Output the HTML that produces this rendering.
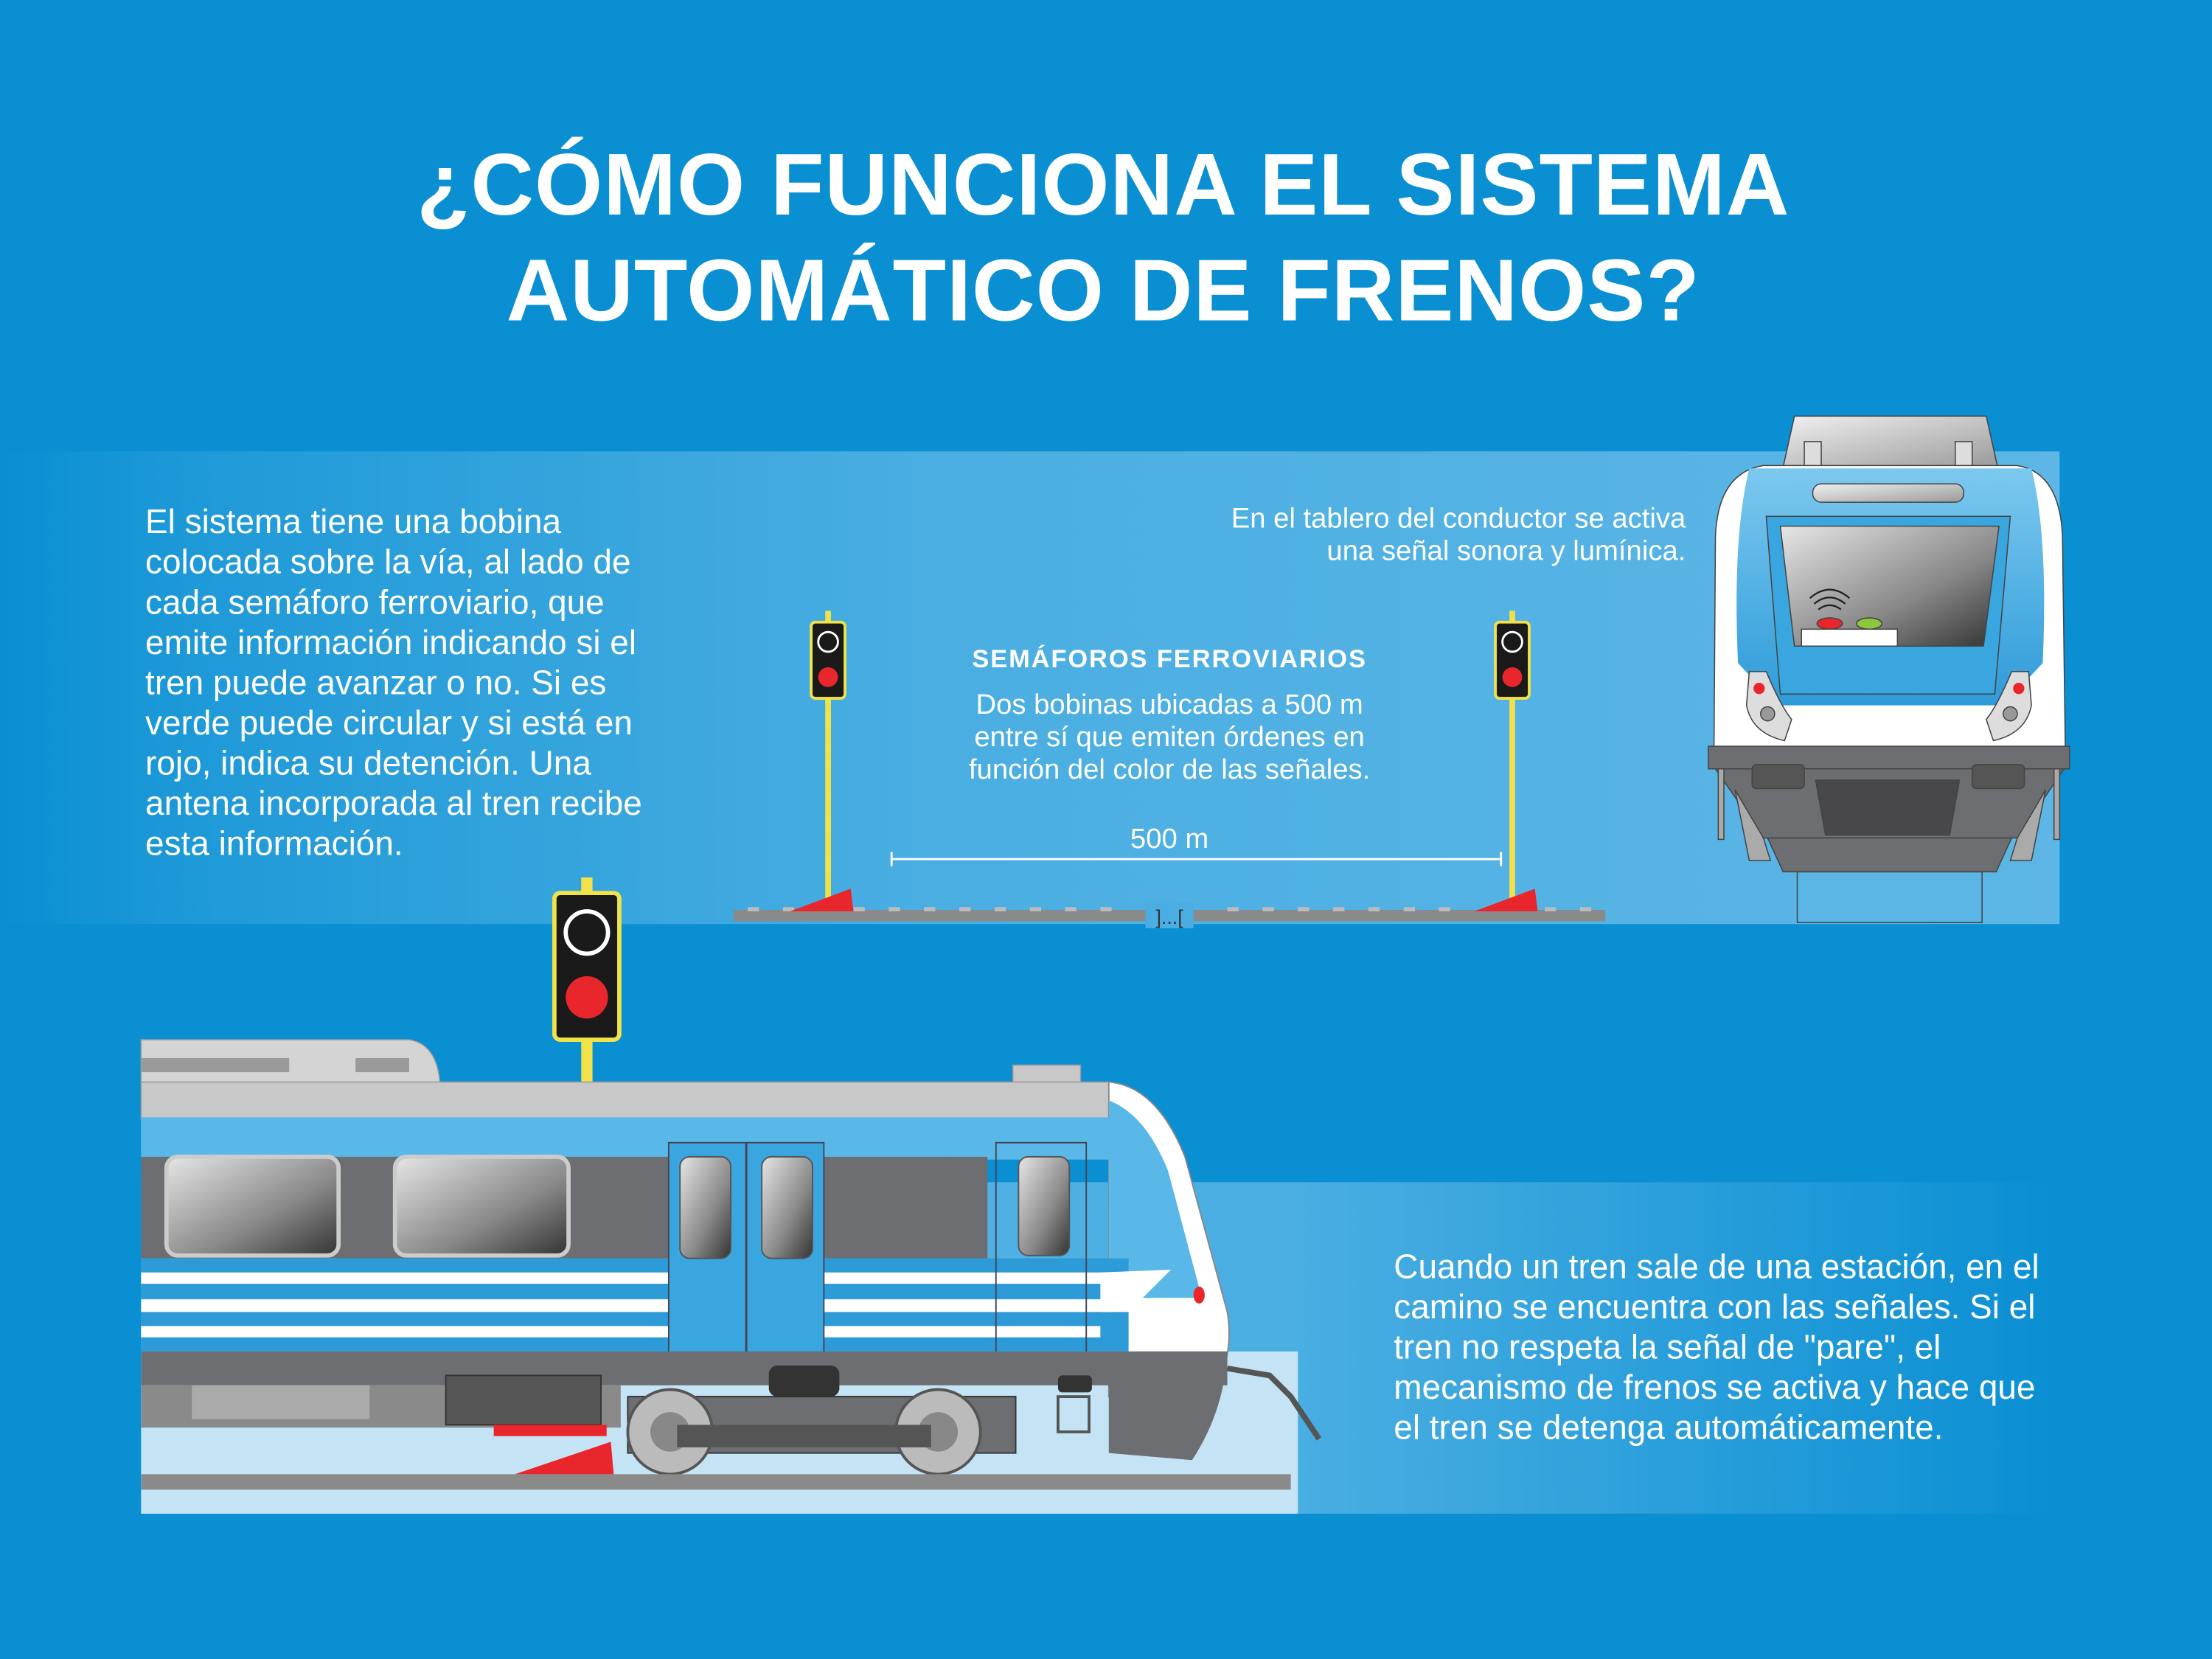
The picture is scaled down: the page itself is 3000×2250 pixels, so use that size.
<!DOCTYPE html>
<html><head><meta charset="utf-8"><style>
html,body{margin:0;padding:0;background:#0a8fd3;}
svg{display:block;}
text{font-family:"Liberation Sans",sans-serif;}
</style></head><body>
<svg width="3000" height="2250" viewBox="0 0 1568 1176" xmlns="http://www.w3.org/2000/svg">
<defs>
<linearGradient id="b1" x1="0" x2="1" y1="0" y2="0">
<stop offset="0" stop-color="#0a8fd3"/><stop offset="0.1" stop-color="#1f9ad8"/><stop offset="0.45" stop-color="#4aaee2"/><stop offset="1" stop-color="#5db6e5"/></linearGradient>
<linearGradient id="b2" x1="0" x2="1" y1="0" y2="0">
<stop offset="0" stop-color="#5ab6e6"/><stop offset="0.6" stop-color="#4aaee2"/><stop offset="1" stop-color="#0a8fd3"/></linearGradient>
<linearGradient id="win" x1="0" x2="1" y1="0" y2="1">
<stop offset="0" stop-color="#e6e6e6"/><stop offset="0.6" stop-color="#888"/><stop offset="1" stop-color="#333"/></linearGradient>
<linearGradient id="wing" x1="0" x2="1" y1="0" y2="1">
<stop offset="0" stop-color="#f0f0f0"/><stop offset="1" stop-color="#9a9a9a"/></linearGradient>
<linearGradient id="lb" x1="0" x2="0" y1="0" y2="1">
<stop offset="0" stop-color="#7cc8ef"/><stop offset="1" stop-color="#2e9bd9"/></linearGradient>
</defs>
<rect width="1568" height="1176" fill="#0a8fd3"/>
<rect x="0" y="320" width="1460" height="335" fill="url(#b1)"/>
<rect x="100" y="838" width="1360" height="235" fill="url(#b2)"/>

<text x="782" y="152" text-anchor="middle" fill="#fff" font-size="62" font-weight="bold" letter-spacing="0.5">¿CÓMO FUNCIONA EL SISTEMA</text>
<text x="782" y="227" text-anchor="middle" fill="#fff" font-size="62" font-weight="bold" letter-spacing="0.5">AUTOMÁTICO DE FRENOS?</text>

<g fill="#fff" font-size="24">
<text x="103" y="378">El sistema tiene una bobina</text>
<text x="103" y="406.5">colocada sobre la vía, al lado de</text>
<text x="103" y="435">cada semáforo ferroviario, que</text>
<text x="103" y="463.5">emite información indicando si el</text>
<text x="103" y="492">tren puede avanzar o no. Si es</text>
<text x="103" y="520.5">verde puede circular y si está en</text>
<text x="103" y="549">rojo, indica su detención. Una</text>
<text x="103" y="577.5">antena incorporada al tren recibe</text>
<text x="103" y="606">esta información.</text>
</g>
<g fill="#fff" font-size="24">
<text x="988" y="906">Cuando un tren sale de una estación, en el</text>
<text x="988" y="934.5">camino se encuentra con las señales. Si el</text>
<text x="988" y="963">tren no respeta la señal de "pare", el</text>
<text x="988" y="991.5">mecanismo de frenos se activa y hace que</text>
<text x="988" y="1020">el tren se detenga automáticamente.</text>
</g>
<g fill="#fff" font-size="20" text-anchor="end">
<text x="1195" y="374">En el tablero del conductor se activa</text>
<text x="1195" y="397">una señal sonora y lumínica.</text>
</g>
<text x="829" y="473" text-anchor="middle" fill="#fff" font-size="18" font-weight="bold" letter-spacing="1">SEMÁFOROS FERROVIARIOS</text>
<g fill="#fff" font-size="20" text-anchor="middle">
<text x="829" y="506">Dos bobinas ubicadas a 500 m</text>
<text x="829" y="529">entre sí que emiten órdenes en</text>
<text x="829" y="552">función del color de las señales.</text>
</g>
<text x="829" y="601" text-anchor="middle" fill="#fff" font-size="20">500 m</text>
<line x1="632" y1="609" x2="1064" y2="609" stroke="#fff" stroke-width="1.5"/>
<line x1="632" y1="604" x2="632" y2="614" stroke="#fff" stroke-width="1.5"/>
<line x1="1064" y1="604" x2="1064" y2="614" stroke="#fff" stroke-width="1.5"/>

<rect x="520" y="645" width="618" height="8" fill="#8a8a8a"/>
<g fill="#bbb">
<rect x="530" y="643" width="8" height="3"/><rect x="555" y="643" width="8" height="3"/><rect x="580" y="643" width="8" height="3"/><rect x="605" y="643" width="8" height="3"/><rect x="630" y="643" width="8" height="3"/><rect x="655" y="643" width="8" height="3"/><rect x="680" y="643" width="8" height="3"/><rect x="705" y="643" width="8" height="3"/><rect x="730" y="643" width="8" height="3"/><rect x="755" y="643" width="8" height="3"/><rect x="780" y="643" width="8" height="3"/><rect x="870" y="643" width="8" height="3"/><rect x="895" y="643" width="8" height="3"/><rect x="920" y="643" width="8" height="3"/><rect x="945" y="643" width="8" height="3"/><rect x="970" y="643" width="8" height="3"/><rect x="995" y="643" width="8" height="3"/><rect x="1020" y="643" width="8" height="3"/><rect x="1095" y="643" width="8" height="3"/><rect x="1120" y="643" width="8" height="3"/>
</g>
<rect x="812" y="640" width="34" height="18" fill="#4aaee2"/>
<text x="829" y="655" text-anchor="middle" fill="#333" font-size="14">]...[</text>

<g>
<rect x="585" y="433" width="4" height="205" fill="#f2e24a"/>
<rect x="575" y="441" width="24" height="54" rx="3" fill="#1a1a1a" stroke="#f2e24a" stroke-width="2"/>
<circle cx="587" cy="455" r="7" fill="none" stroke="#fff" stroke-width="1.5"/>
<circle cx="587" cy="480" r="7" fill="#e8262b"/>
<polygon points="560,646 605,646 603,630" fill="#e8262b"/>
<rect x="1070" y="433" width="4" height="205" fill="#f2e24a"/>
<rect x="1060" y="441" width="24" height="54" rx="3" fill="#1a1a1a" stroke="#f2e24a" stroke-width="2"/>
<circle cx="1072" cy="455" r="7" fill="none" stroke="#fff" stroke-width="1.5"/>
<circle cx="1072" cy="480" r="7" fill="#e8262b"/>
<polygon points="1045,646 1090,646 1088,630" fill="#e8262b"/>
</g>

<g stroke="#444" stroke-width="0.8">
<rect x="1274" y="618" width="131" height="36" fill="#5ab5e5"/>
<polygon points="1272,295 1408,295 1416,331 1264,331" fill="url(#wing)"/>
<rect x="1279" y="313" width="12" height="18" fill="#ddd"/><rect x="1386" y="313" width="12" height="18" fill="#ddd"/>
<path d="M1215,530 L1216,380 Q1218,335 1250,330 L1430,330 Q1460,335 1462,380 L1464,530 Z" fill="#fff"/>
<path d="M1240,332 L1440,332 Q1452,380 1448,470 L1420,500 L1260,500 L1232,470 Q1228,380 1240,332 Z" fill="url(#lb)" stroke="none"/>
<rect x="1285" y="343" width="107" height="13" rx="6" fill="url(#wing)"/>
<path d="M1252,366 L1425,366 L1414,492 L1262,492 Z" fill="#3aa6e0"/>
<path d="M1262,373 L1417,373 L1406,458 L1272,458 Z" fill="url(#win)"/>
<path d="M1289,432 q8,-6 16,0 M1286,428 q11,-9 22,0 M1283,424 q14,-12 28,0" fill="none" stroke="#222" stroke-width="1.2"/>
<ellipse cx="1297" cy="442" rx="9" ry="4" fill="#e8262b"/>
<ellipse cx="1325" cy="442" rx="9" ry="4" fill="#8cc63f"/>
<rect x="1277" y="446" width="68" height="12" fill="#fff"/>
<path d="M1240,476 L1252,476 Q1262,500 1270,510 L1265,525 Q1242,520 1238,500 Z" fill="#ddd"/>
<path d="M1438,476 L1426,476 Q1416,500 1408,510 L1413,525 Q1436,520 1440,500 Z" fill="#ddd"/>
<circle cx="1247" cy="488" r="4" fill="#e8262b" stroke="none"/><circle cx="1431" cy="488" r="4" fill="#e8262b" stroke="none"/>
<circle cx="1253" cy="506" r="5" fill="#999"/><circle cx="1425" cy="506" r="5" fill="#999"/>
<rect x="1211" y="529" width="256" height="16" fill="#6d6e71"/>
<polygon points="1216,545 1463,545 1430,594 1250,594" fill="#6d6e71"/>
<rect x="1218" y="545" width="4" height="50" fill="#aaa"/><rect x="1456" y="545" width="4" height="50" fill="#aaa"/>
<polygon points="1230,560 1250,594 1255,610 1240,610" fill="#aaa"/>
<polygon points="1450,560 1430,594 1425,610 1440,610" fill="#aaa"/>
<rect x="1242" y="542" width="37" height="17" rx="3" fill="#555"/>
<rect x="1398" y="542" width="37" height="17" rx="3" fill="#555"/>
<polygon points="1287,553 1389,553 1382,592 1294,592" fill="#48484a"/>
<polygon points="1253,594 1426,594 1415,618 1264,618" fill="#6d6e71"/>
</g>

<rect x="100" y="958" width="820" height="115" fill="#c4e3f4"/>
<path d="M100,737 L290,737 Q310,740 312,769 L100,769 Z" fill="#d4d4d4" stroke="#999" stroke-width="0.8"/>
<rect x="100" y="750" width="105" height="10" fill="#9a9a9a"/>
<rect x="252" y="750" width="38" height="10" fill="#9a9a9a"/>
<rect x="412" y="622" width="8" height="150" fill="#f2e24a"/>
<rect x="393" y="633" width="46" height="104" rx="4" fill="#1a1a1a" stroke="#f2e24a" stroke-width="3"/>
<circle cx="416" cy="661" r="15" fill="none" stroke="#fff" stroke-width="3"/>
<circle cx="416" cy="707" r="15" fill="#e8262b"/>

<rect x="718" y="755" width="48" height="14" fill="#c8c8c8" stroke="#999" stroke-width="0.8"/>
<rect x="100" y="767" width="686" height="26" fill="#c8c8c8" stroke="#999" stroke-width="0.8"/>
<path d="M786,767 Q820,770 840,820 L870,930 Q875,960 860,990 L786,990 Z" fill="#fff" stroke="#888" stroke-width="1"/>
<path d="M786,780 Q812,790 828,830 L852,920 L786,920 Z" fill="#5ab8e8"/>
<rect x="100" y="792" width="690" height="30" fill="#5ab8e8"/>
<rect x="100" y="820" width="600" height="72" fill="#6d6e71"/>
<ellipse cx="670" cy="856" rx="30" ry="36" fill="#6d6e71"/>
<rect x="118" y="820" width="122" height="70" rx="8" fill="url(#win)" stroke="#ccc" stroke-width="3"/>
<rect x="280" y="820" width="123" height="70" rx="8" fill="url(#win)" stroke="#ccc" stroke-width="3"/>
<rect x="100" y="892" width="700" height="66" fill="#2e9bd9"/>
<rect x="100" y="902" width="720" height="8" fill="#fff"/>
<rect x="100" y="921" width="690" height="9" fill="#fff"/>
<rect x="100" y="940" width="680" height="8" fill="#fff"/>
<polygon points="780,902 830,900 800,930 780,930" fill="#fff"/>
<rect x="474" y="810" width="110" height="150" fill="#3aa6e0" stroke="#445" stroke-width="1"/>
<line x1="529" y1="810" x2="529" y2="960" stroke="#445" stroke-width="1.5"/>
<rect x="482" y="820" width="36" height="72" rx="7" fill="url(#win)" stroke="#555"/>
<rect x="540" y="820" width="36" height="72" rx="7" fill="url(#win)" stroke="#555"/>
<rect x="706" y="810" width="64" height="150" fill="none" stroke="#445" stroke-width="1"/>
<rect x="722" y="820" width="36" height="70" rx="7" fill="url(#win)" stroke="#555"/>
<ellipse cx="850" cy="918" rx="4" ry="6" fill="#e8262b"/>
<rect x="100" y="958" width="770" height="24" fill="#6d6e71"/>
<path d="M786,958 L870,958 Q868,1000 845,1035 L786,1030 Z" fill="#6d6e71"/>
<rect x="100" y="982" width="340" height="30" fill="#8a8a8a"/>
<rect x="136" y="982" width="126" height="24" fill="#aaa"/>
<rect x="316" y="975" width="110" height="35" fill="#555" stroke="#333"/>
<rect x="350" y="1010" width="80" height="8" fill="#e8262b"/>
<polygon points="365,1045 435,1045 433,1022" fill="#e8262b"/>
<rect x="545" y="968" width="50" height="22" rx="6" fill="#333"/>
<path d="M445,990 L720,990 L720,1030 L445,1030 Z" fill="#6d6e71" stroke="#333"/>
<circle cx="475" cy="1015" r="30" fill="#bbb" stroke="#555" stroke-width="2"/>
<circle cx="475" cy="1015" r="14" fill="#888"/>
<circle cx="665" cy="1015" r="30" fill="#bbb" stroke="#555" stroke-width="2"/>
<circle cx="665" cy="1015" r="14" fill="#888"/>
<rect x="480" y="1010" width="180" height="16" fill="#555"/>
<rect x="750" y="975" width="24" height="12" rx="3" fill="#333"/>
<rect x="750" y="990" width="22" height="25" fill="none" stroke="#555" stroke-width="2"/>
<path d="M870,970 L900,975 L915,990 L935,1020" fill="none" stroke="#555" stroke-width="4"/>
<rect x="100" y="1045" width="815" height="11" fill="#8a8a8a"/>
</svg>
</body></html>
